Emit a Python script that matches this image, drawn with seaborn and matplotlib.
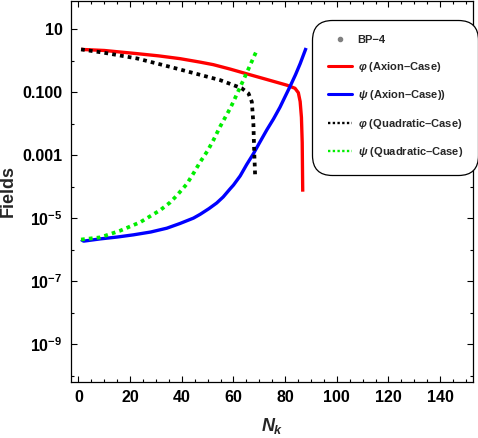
import numpy as np
import pandas as pd
import matplotlib
matplotlib.use("Agg")
import matplotlib.pyplot as plt
import seaborn as sns
from matplotlib.lines import Line2D
from matplotlib.ticker import FixedLocator, FixedFormatter, NullFormatter

# ---- data ----
red_N = [1, 10, 22.6, 31, 39.3, 47.1, 52.2, 58.7, 65.1, 71.6, 78.0, 80.6, 83.8, 85.1,
         85.8, 86.3, 86.6, 86.8]
red_v = [2.26, 2.09, 1.66, 1.41, 1.15, 0.891, 0.741, 0.537, 0.380, 0.269, 0.191, 0.166,
         0.132, 0.0955, 0.0501, 0.0158, 2.51e-3, 6.9e-5]

blue_N = [1, 2, 8.4, 15, 21.3, 28, 34.2, 39.3, 44.5, 47.1, 50.5, 53.5, 56, 58.7, 60,
          62.6, 65.1, 67.7, 70, 72.9, 75.5, 78.0, 80, 81.9, 84, 85.8, 88.1]
blue_v = [2.09e-6, 1.86e-6, 2.19e-6, 2.51e-6, 2.95e-6, 3.63e-6, 4.79e-6, 6.76e-6, 1.0e-5,
          1.32e-5, 2.0e-5, 3.02e-5, 4.68e-5, 8.51e-5, 1.12e-4, 2.19e-4, 5.0e-4, 1.10e-3,
          2.40e-3, 6.31e-3, 0.0141, 0.0331, 0.0724, 0.151, 0.355, 0.794, 2.51]

black_N = [1, 9.7, 22.6, 35.5, 45.1, 54.8, 60.0, 63.2, 65.8, 67.1, 67.7, 68.0, 68.4]
black_v = [2.26, 1.78, 1.17, 0.63, 0.39, 0.24, 0.166, 0.132, 0.091, 0.049, 0.010,
           1.45e-3, 2.0e-4]

green_N = [1, 8.4, 16.1, 23.9, 31.6, 35.5, 38.1, 41.9, 44.5, 47.1, 50, 52.2, 54.8, 58.7,
           60, 64.5, 69.0]
green_v = [2.09e-6, 2.45e-6, 3.98e-6, 7.41e-6, 1.78e-5, 3.16e-5, 5.25e-5, 1.20e-4,
           2.63e-4, 6.03e-4, 1.38e-3, 2.95e-3, 7.94e-3, 0.0302, 0.0501, 0.316, 2.09]

labels = ["BP\u22124",
          "$\\varphi$ (Axion\u2013Case)",
          "$\\psi$ (Axion\u2013Case))",
          "$\\varphi$ (Quadratic\u2013Case)",
          "$\\psi$ (Quadratic\u2013Case)"]

y_major = [10, 0.1, 1e-3, 1e-5, 1e-7, 1e-9]
y_major_lbl = ["10", "0.100", "0.001", r"$\mathbf{10^{-5}}$", r"$\mathbf{10^{-7}}$", r"$\mathbf{10^{-9}}$"]
y_minor = [1, 1e-2, 1e-4, 1e-6, 1e-8, 1e-10]
x_major = [0, 20, 40, 60, 80, 100, 120, 140]

# ---- style ----
sns.set_style("ticks")
plt.rcParams["font.family"] = ["Liberation Sans", "DejaVu Sans"]
plt.rcParams["font.weight"] = "bold"
plt.rcParams["mathtext.fontset"] = "custom"
plt.rcParams["mathtext.rm"] = "Liberation Sans:bold"
plt.rcParams["mathtext.bf"] = "Liberation Sans:bold"
plt.rcParams["mathtext.it"] = "Liberation Sans:bold:italic"

fig = plt.figure(figsize=(4.78, 4.38), dpi=100)
ax = fig.add_axes([0.1485, 0.1279, 0.8410, 0.8698])

def draw(N, v, color, dotted):
    df = pd.DataFrame({"N": N, "v": v})
    kw = dict(color=color, lw=2.7 if dotted else 2.4)
    if dotted:
        kw["dashes"] = (1.0, 1.1)
    sns.lineplot(data=df, x="N", y="v", ax=ax, sort=False, estimator=None, **kw)
    l = ax.get_lines()[-1]
    l.set_zorder(3)
    if dotted:
        l.set_dash_capstyle("butt")
    else:
        l.set_solid_capstyle("butt")
        l.set_solid_joinstyle("round")

draw(red_N, red_v, "#ff0000", False)
draw(blue_N, blue_v, "#0000ff", False)
draw(black_N, black_v, "black", True)
draw(green_N, green_v, "#00ee00", True)

ax.set_yscale("log")
ax.set_xlim(-2.9, 152.7)
ax.set_ylim(10 ** -10.2, 10 ** 1.89)

ax.yaxis.set_major_locator(FixedLocator(y_major))
ax.yaxis.set_major_formatter(FixedFormatter(y_major_lbl))
ax.yaxis.set_minor_locator(FixedLocator(y_minor))
ax.yaxis.set_minor_formatter(NullFormatter())
ax.xaxis.set_major_locator(FixedLocator(x_major))
ax.xaxis.set_minor_locator(FixedLocator(np.arange(0, 155, 5)))
ax.xaxis.set_minor_formatter(NullFormatter())

ax.tick_params(which="both", direction="in", top=True, right=True, width=0.8, colors="black")
ax.tick_params(which="major", length=4.5, labelsize=11.5, pad=6)
ax.tick_params(which="minor", length=2.5)
for lbl in ax.get_xticklabels() + ax.get_yticklabels():
    lbl.set_fontweight("bold")
for s in ax.spines.values():
    s.set_linewidth(0.9)
    s.set_color("black")

ax.set_xlabel(r"$\mathit{N_k}$", fontsize=13, labelpad=8)
ax.set_ylabel("Fields", fontsize=13, fontweight="bold", labelpad=4)

handles = [
    Line2D([], [], marker="o", color="gray", ls="none", markersize=3),
    Line2D([], [], color="#ff0000", lw=2.2),
    Line2D([], [], color="#0000ff", lw=2.2),
    Line2D([], [], color="black", lw=1.7, ls=(0, (1, 1))),
    Line2D([], [], color="#00ee00", lw=1.7, ls=(0, (1, 1))),
]
leg = ax.legend(handles, labels, loc="upper right", bbox_to_anchor=(1.005, 0.942),
                frameon=True, fancybox=True, handlelength=2.2,
                labelspacing=1.3, borderpad=1.1, handletextpad=0.5, borderaxespad=0,
                prop={"weight": "bold", "size": 8})
leg.set_zorder(5)
fr = leg.get_frame()
fr.set_edgecolor("black")
fr.set_linewidth(0.9)
fr.set_alpha(1)
fr.set_boxstyle("round", pad=0.3, rounding_size=1.8)

fig.savefig("out.png", dpi=100)
